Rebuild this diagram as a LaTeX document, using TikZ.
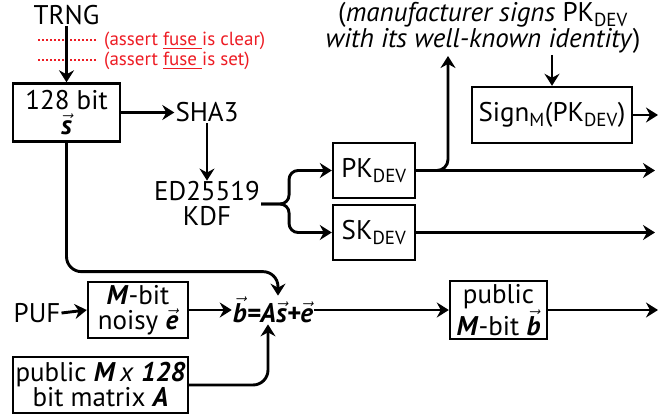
\documentclass[tikz,border=0pt]{standalone}
\usepackage{amsmath}
\usepackage{fontspec}
\setmainfont{PT Sans}
\usetikzlibrary{arrows.meta}
\definecolor{fusered}{RGB}{237,28,36}
\newcommand{\bvec}[1]{\ensuremath{\vec{\text{\bfseries\itshape #1}}}}
\newcommand{\bi}[1]{\textbf{\textit{#1}}}
\tikzset{
  blk/.style={draw, line width=2.4pt, inner sep=1pt, align=center, font=\fontsize{27}{25}\selectfont},
  lbl/.style={inner sep=1pt, align=center, font=\fontsize{27}{25}\selectfont},
  arr/.style={-{Stealth[length=12pt,width=15pt,inset=4pt]}, line width=2.9pt},
  fusenote/.style={text=fusered, anchor=west, inner sep=0pt, font=\fontsize{19}{20}\selectfont},
  fuseline/.style={fusered, line width=1.8pt, dash pattern=on 1.8pt off 2.2pt},
}

\begin{document}
\begin{tikzpicture}[x=1pt, y=-1pt]
  \useasboundingbox (0,0) rectangle (670,415);
  % entropy source and seed
  \node[lbl] (trng) at (66.5,15) {TRNG};
  \node[blk, minimum width=107pt, minimum height=58pt] (seed) at (66.5,112.5) {128 bit\\\bvec{s}};
  \node[fusenote] (clear) at (104,41) {(assert \underline{fuse }is clear)};
  \node[fusenote] (set) at (104,61) {(assert \underline{fuse }is set)};
  \draw[fuseline] (38,40) -- (96,40);
  \draw[fuseline] (38,60) -- (96,60);

  % key derivation
  \node[lbl] (sha) at (207,112.5) {SHA3};
  \node[lbl] (kdf) at (207,204) {ED25519\\KDF};
  \node[blk, minimum width=82pt, minimum height=55pt] (pk) at (374,170.5) {PK\textsubscript{DEV}};
  \node[blk, minimum width=82pt, minimum height=55pt] (sk) at (374,232.5) {SK\textsubscript{DEV}};
  \node[lbl] (note) at (483,28) {(\textit{manufacturer signs} PK\textsubscript{DEV}\\\textit{with its well-known identity})};
  \node[blk, minimum width=160pt, minimum height=56pt] (sign) at (552,115) {Sign\textsubscript{M}(PK\textsubscript{DEV})};
  \coordinate (noteup) at (448,56);
  \coordinate (signout) at (658,115);
  \coordinate (pkout) at (655,170.5);
  \coordinate (skout) at (655,232.5);
  \path (kdf.east) ++(28,0) coordinate (split);

  % fuzzy extractor
  \node[lbl] (puf) at (37,313) {PUF};
  \node[blk, minimum width=100pt, minimum height=56pt] (noise) at (138,310) {\bi{M}-bit\\noisy \bvec{e}};
  \node[lbl] (eq) at (273,310) {\bvec{b}\textbf{\textit{=A}}\bvec{s}\textbf{\textit{+}}\bvec{e}};
  \node[blk, minimum width=97pt, minimum height=58pt] (pub) at (498.5,310) {public\\\bi{M}-bit \bvec{b}};
  \node[blk, minimum width=175pt, minimum height=56pt] (mat) at (100.5,385) {public \bi{M}\,\textit{x} \bi{128}\\bit matrix \bi{A}};
  \coordinate (pubout) at (658,310);

  \draw[arr] (trng) -- (seed);
  \draw[arr] (seed.east) -- (sha.west);
  \draw[arr] (sha) -- (kdf);
  \draw[arr, rounded corners=9pt] (kdf.east) -- (split) |- (pk.west);
  \draw[arr, rounded corners=9pt] (kdf.east) -- (split) |- (sk.west);
  \draw[arr, rounded corners=11pt] (pk.east) -| (noteup);
  \draw[arr] (pk.east) -- (pkout);
  \draw[arr] (sk.east) -- (skout);
  \draw[arr] (note.south -| sign) -- (sign.north);
  \draw[arr] (sign.east) -- (signout);
  \draw[arr, rounded corners=15pt] (seed.south) |- ([xshift=5pt, yshift=24pt]eq.north) -- ([xshift=5pt]eq.north);
  \draw[arr] (puf.east) -- (noise.west);
  \draw[arr] (noise.east) -- (eq.west);
  \draw[arr] (eq.east) -- (pub.west);
  \draw[arr] (pub.east) -- (pubout);
  \draw[arr, rounded corners=15pt] (mat.east) -| ([xshift=-5pt]eq.south);
\end{tikzpicture}
\end{document}
